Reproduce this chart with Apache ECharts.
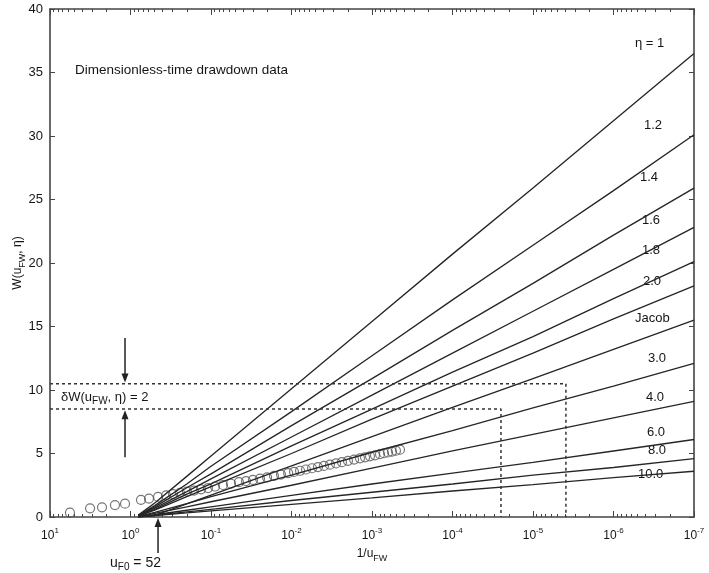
<!DOCTYPE html>
<html>
<head>
<meta charset="utf-8">
<script src="https://cdn.jsdelivr.net/npm/echarts@6/dist/echarts.min.js"></script>
<style>
html, body { margin: 0; padding: 0; background: #fff; }
#chart { width: 709px; height: 573px; }
</style>
</head>
<body>
<div id="chart"></div>
<script>
// u values at which the type curves were read (axis runs 10^1 -> 10^-7)
var curveU = [0.8, 0.5, 0.2, 0.1, 1e-2, 1e-3, 1e-4, 1e-5, 1e-6, 1e-7];

var eta1   = [0.15, 1.1, 3.2, 4.8, 10.1, 15.4, 20.7, 25.9, 31.2, 36.5];
var eta1_2 = [0.12, 0.9, 2.6, 4.0, 8.3, 12.7, 17.1, 21.4, 25.7, 30.1];
var eta1_4 = [0.11, 0.8, 2.3, 3.4, 7.2, 10.9, 14.7, 18.4, 22.2, 25.9];
var eta1_6 = [0.09, 0.7, 2.0, 3.0, 6.3, 9.6, 12.9, 16.2, 19.5, 22.8];
var eta1_8 = [0.08, 0.6, 1.8, 2.6, 5.6, 8.5, 11.4, 14.2, 17.2, 20.1];
var eta2_0 = [0.07, 0.55, 1.6, 2.4, 5.0, 7.7, 10.3, 12.9, 15.6, 18.2];
var jacob  = [0, 0.12, 1.03, 1.73, 4.03, 6.33, 8.63, 10.9, 13.2, 15.5];
var eta3_0 = [0.05, 0.36, 1.05, 1.6, 3.3, 5.1, 6.8, 8.6, 10.3, 12.1];
var eta4_0 = [0.04, 0.28, 0.8, 1.2, 2.5, 3.85, 5.2, 6.5, 7.8, 9.1];
var eta6_0 = [0.03, 0.18, 0.53, 0.8, 1.7, 2.6, 3.45, 4.3, 5.2, 6.1];
var eta8_0 = [0.02, 0.14, 0.4, 0.6, 1.3, 1.95, 2.6, 3.3, 3.9, 4.6];
var eta10_0 = [0.01, 0.11, 0.32, 0.48, 1.0, 1.5, 2.05, 2.55, 3.1, 3.6];

// drawdown data (circles)
var dataU = [5.65, 3.18, 2.26, 1.56, 1.17, 0.741, 0.589, 0.455, 0.362, 0.296,
    0.243, 0.199, 0.163, 0.133, 0.109, 0.0891, 0.0710, 0.0565, 0.0449, 0.0367,
    0.0301, 0.0246, 0.0201, 0.0165, 0.0135, 0.0110, 0.0093, 0.00783, 0.00661, 0.00556,
    0.00469, 0.00395, 0.00333, 0.0028, 0.00236, 0.00199, 0.00167, 0.00141, 0.00122, 0.00106,
    0.000918, 0.000796, 0.00071, 0.000633, 0.000565, 0.000504, 0.000449];
var dataW = [0.34, 0.68, 0.76, 0.94, 1.05, 1.35, 1.45, 1.58, 1.7, 1.8,
    1.9, 2.0, 2.08, 2.18, 2.28, 2.4, 2.52, 2.62, 2.74, 2.83,
    2.92, 3.02, 3.12, 3.24, 3.34, 3.45, 3.55, 3.64, 3.74, 3.84,
    3.93, 4.02, 4.12, 4.22, 4.32, 4.42, 4.52, 4.62, 4.70, 4.78,
    4.86, 4.95, 5.02, 5.08, 5.15, 5.22, 5.3];

// dashed match lines
var wUpper = 10.5, uUpper = 3.9e-6;
var wLower = 8.5, uLower = 2.5e-5;

var yTicks = { min: 0, max: 40, interval: 5 };
var xRange = { min: 1e-7, max: 10 };

var FONT = '"Liberation Sans", Arial, sans-serif';
var INK = '#262626';
var TXT = '#151515';

function pairs(xs, ys) {
    return xs.map(function (x, i) { return [x, ys[i]]; });
}

function curve(values) {
    return {
        type: 'line',
        data: pairs(curveU, values),
        symbol: 'none',
        silent: true,
        lineStyle: { color: INK, width: 1.35 }
    };
}

function expLabel(v) {
    var e = Math.round(Math.log(v) / Math.LN10);
    return '{b|10}{sup|' + e + '}';
}

var xBase = {
    type: 'log',
    logBase: 10,
    min: xRange.min,
    max: xRange.max,
    inverse: true,
    axisLine: { onZero: false, lineStyle: { color: '#444', width: 1.6 } },
    axisTick: { inside: true, length: 6, lineStyle: { color: '#444', width: 1 } },
    minorTick: { show: true, splitNumber: 9, length: 3, lineStyle: { color: '#444', width: 1 } },
    splitLine: { show: false },
    minorSplitLine: { show: false }
};

var yBase = {
    type: 'value',
    min: yTicks.min,
    max: yTicks.max,
    interval: yTicks.interval,
    axisLine: { show: true, onZero: false, lineStyle: { color: '#444', width: 1.6 } },
    axisTick: { show: true, inside: true, length: 5, lineStyle: { color: '#444', width: 1 } },
    splitLine: { show: false }
};

var option = {
    animation: false,
    backgroundColor: '#fff',
    textStyle: { fontFamily: FONT },
    grid: { left: 50, right: 15, top: 9, bottom: 56, containLabel: false, outerBoundsMode: 'none' },
    xAxis: [
        Object.assign({}, xBase, {
            position: 'bottom',
            name: '1/u{sub|FW}',
            nameLocation: 'middle',
            nameGap: 28,
            nameMoveOverlap: false,
            nameTextStyle: {
                color: TXT, fontSize: 12, lineHeight: 18,
                rich: { sub: { fontSize: 9, lineHeight: 8, verticalAlign: 'bottom', color: TXT } }
            },
            axisLabel: {
                color: TXT,
                margin: 10,
                formatter: expLabel,
                rich: {
                    b: { fontSize: 12, lineHeight: 18, color: TXT },
                    sup: { fontSize: 8, lineHeight: 8, verticalAlign: 'top', color: TXT }
                }
            }
        }),
        Object.assign({}, xBase, {
            position: 'top',
            axisLabel: { show: false }
        })
    ],
    yAxis: [
        Object.assign({}, yBase, {
            position: 'left',
            name: 'W(u{sub|FW}, \u03b7)',
            nameLocation: 'middle',
            nameGap: 23,
            nameMoveOverlap: false,
            nameTextStyle: {
                color: TXT, fontSize: 12, lineHeight: 18,
                rich: { sub: { fontSize: 9, lineHeight: 8, verticalAlign: 'bottom', color: TXT } }
            },
            axisLabel: { color: TXT, fontSize: 13, margin: 7 }
        }),
        Object.assign({}, yBase, {
            position: 'right',
            axisLabel: { show: false }
        })
    ],
    series: [
        curve(eta1), curve(eta1_2), curve(eta1_4), curve(eta1_6), curve(eta1_8), curve(eta2_0),
        curve(jacob), curve(eta3_0), curve(eta4_0), curve(eta6_0), curve(eta8_0), curve(eta10_0),
        {
            type: 'line',
            data: [[xRange.max, wUpper], [uUpper, wUpper], [uUpper, 0]],
            symbol: 'none',
            silent: true,
            lineStyle: { color: '#333', width: 1.5, type: [3, 3] }
        },
        {
            type: 'line',
            data: [[xRange.max, wLower], [uLower, wLower], [uLower, 0]],
            symbol: 'none',
            silent: true,
            lineStyle: { color: '#333', width: 1.5, type: [3, 3] }
        },
        {
            type: 'scatter',
            data: pairs(dataU, dataW),
            symbol: 'circle',
            symbolSize: 9,
            silent: true,
            itemStyle: { color: 'rgba(255,255,255,0)', borderColor: '#555', borderWidth: 1.2 }
        }
    ]
};

var chart = echarts.init(document.getElementById('chart'));
chart.setOption(option);

function toPx(u, w) {
    return chart.convertToPixel({ xAxisIndex: 0, yAxisIndex: 0 }, [u, w]);
}

function arrow(x, yFrom, yTo) {
    var dir = yTo > yFrom ? 1 : -1;
    return [
        { type: 'line', silent: true,
          shape: { x1: x, y1: yFrom, x2: x, y2: yTo - dir * 6 },
          style: { stroke: '#222', lineWidth: 1.5 } },
        { type: 'polygon', silent: true,
          shape: { points: [[x, yTo], [x - 3.5, yTo - dir * 9], [x + 3.5, yTo - dir * 9]] },
          style: { fill: '#222' } }
    ];
}

function label(text, x, y, extra) {
    return {
        type: 'text', silent: true, x: x, y: y,
        style: Object.assign({
            text: text, fill: TXT, fontSize: 13, fontFamily: FONT,
            align: 'left', verticalAlign: 'middle'
        }, extra || {})
    };
}

var subRich = { sub: { fontSize: 10, lineHeight: 8, verticalAlign: 'bottom', fill: TXT } };

var aTop = toPx(1.17, 14.1), aTip = toPx(1.17, 10.6);
var bTop = toPx(1.17, 4.7), bTip = toPx(1.17, 8.4);
var uF0 = toPx(0.455, 0);

var curveLabels = [
    ['\u03b7 = 1', 635, 43], ['1.2', 644, 125], ['1.4', 640, 177], ['1.6', 642, 220],
    ['1.8', 642, 250], ['2.0', 643, 281], ['Jacob', 635, 318], ['3.0', 648, 358],
    ['4.0', 646, 397], ['6.0', 647, 432], ['8.0', 648, 450], ['10.0', 638, 474]
];

var elements = [];
elements = elements.concat(arrow(aTop[0], aTop[1], aTip[1]));
elements = elements.concat(arrow(bTop[0], bTop[1], bTip[1]));
elements = elements.concat(arrow(uF0[0], uF0[1] + 36, uF0[1] + 1));
elements.push(label('Dimensionless-time drawdown data', 75, 70, { fontSize: 13.5 }));
elements.push(label('\u03b4W(u{sub|FW}, \u03b7) = 2', 61, 397, { rich: subRich, lineHeight: 18 }));
elements.push(label('u{sub|F0} = 52', 110, 563, { rich: subRich, lineHeight: 18, fontSize: 14 }));
curveLabels.forEach(function (c) {
    elements.push(label(c[0], c[1], c[2]));
});

chart.setOption({ graphic: { elements: elements } });

window.addEventListener('resize', function () {
    chart.resize();
});
</script>
</body>
</html>
